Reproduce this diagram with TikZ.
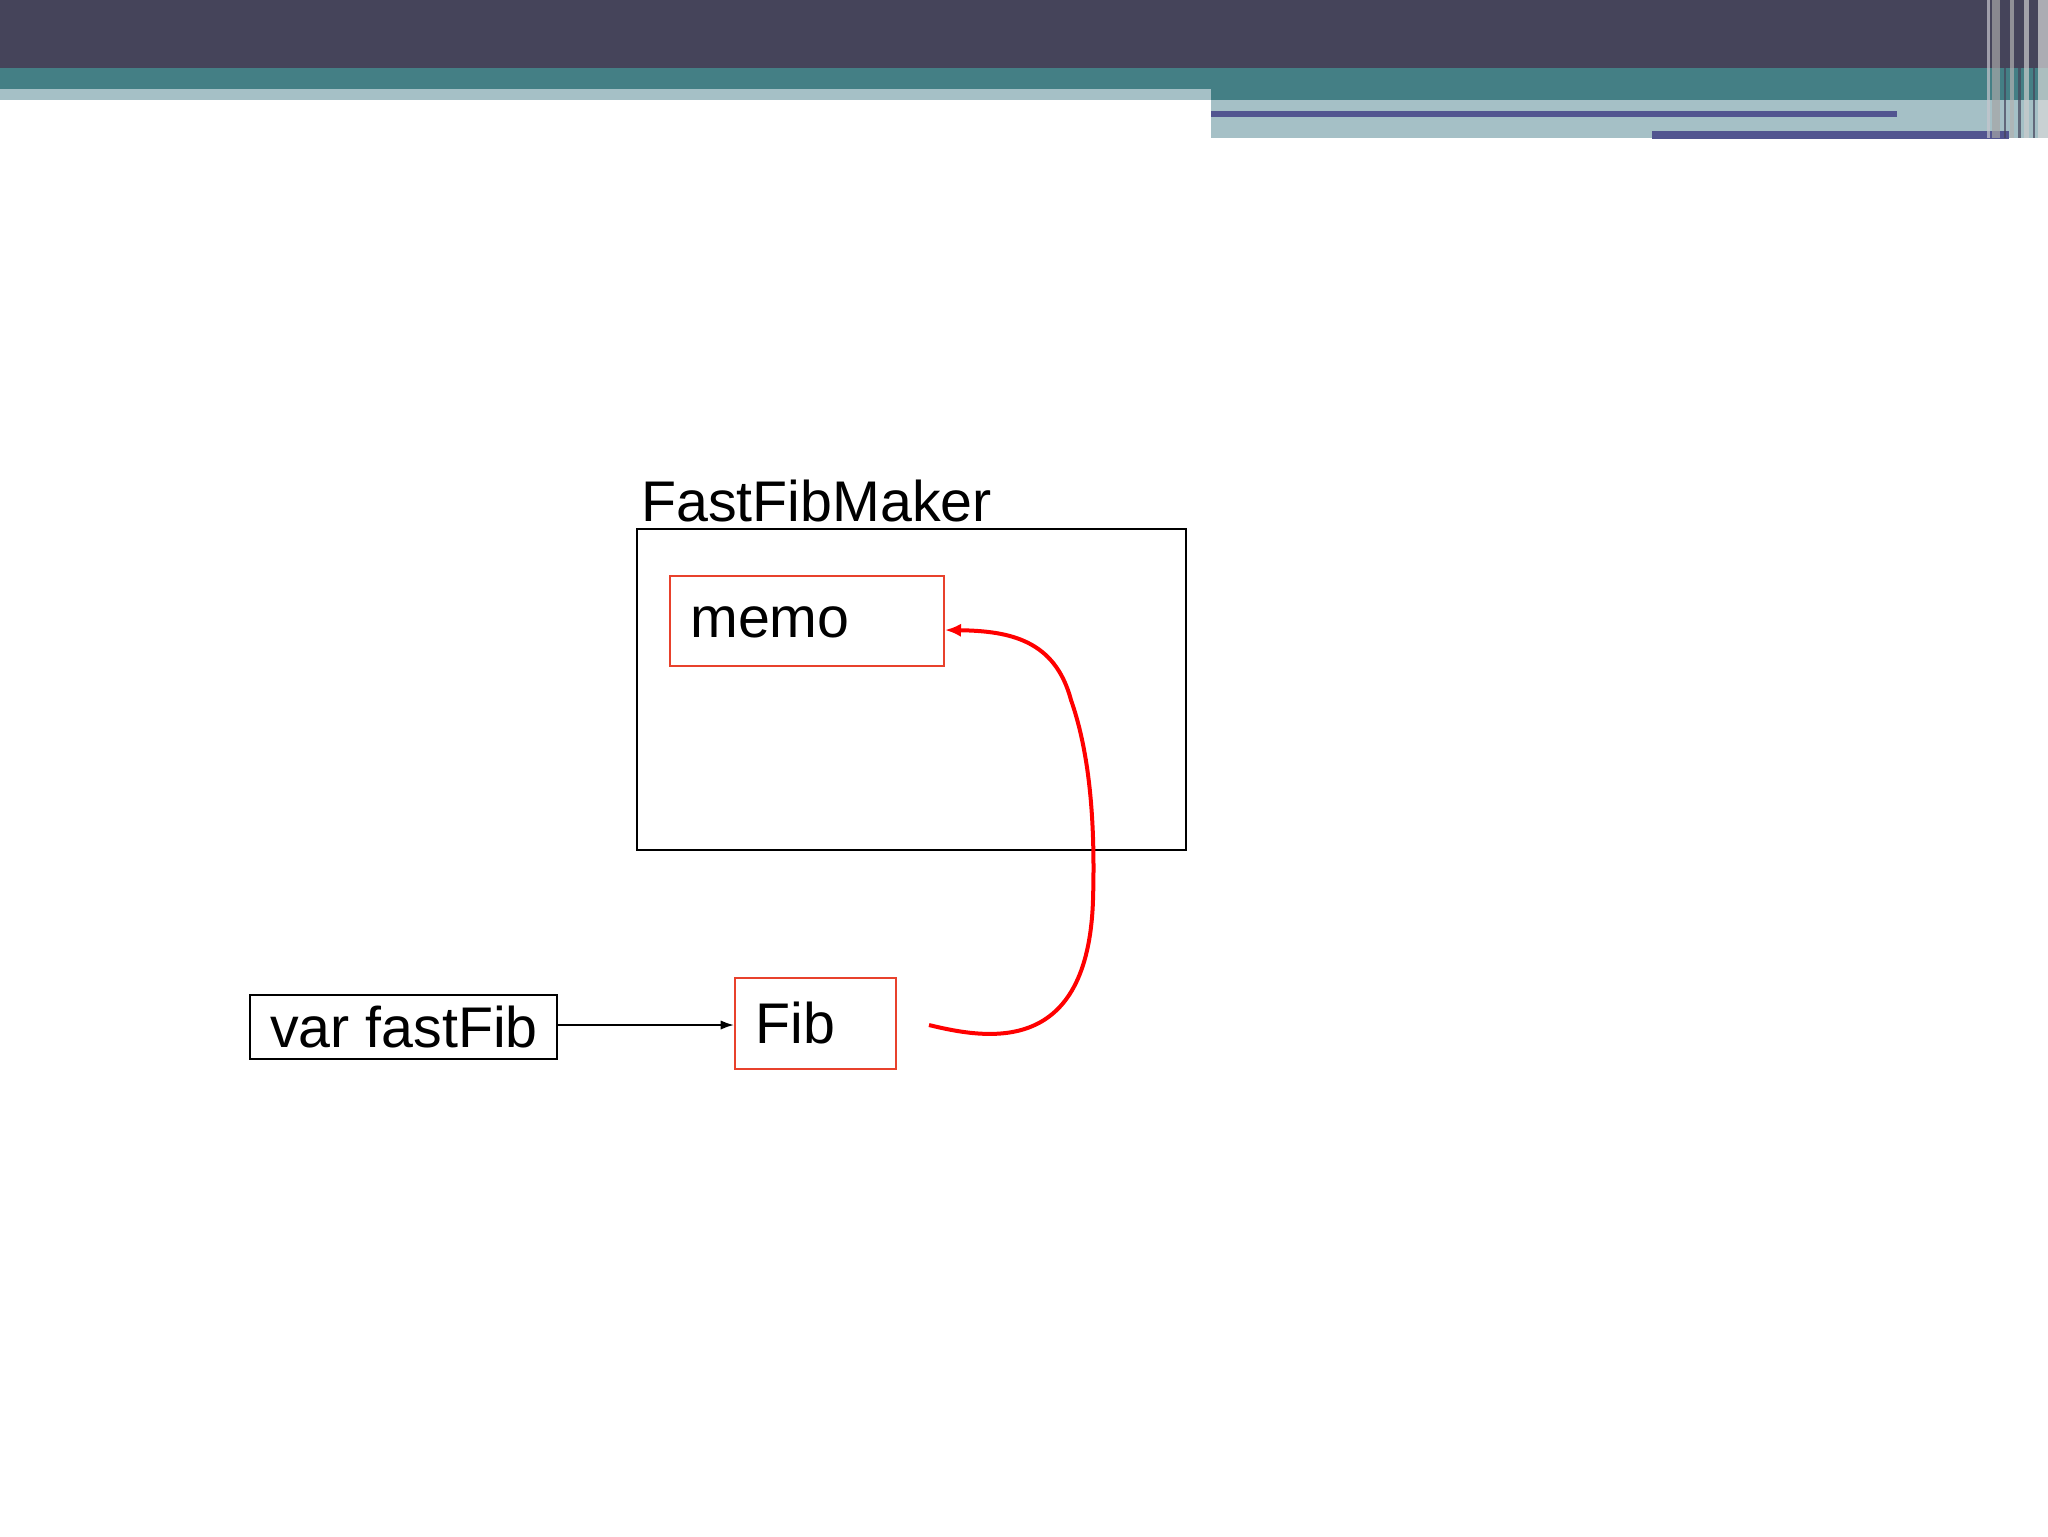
\documentclass[tikz,border=0pt]{standalone}
\usepackage{fontspec}
\usetikzlibrary{arrows.meta}
\setmainfont{Liberation Sans}
\definecolor{hdark}{HTML}{45445A}
\definecolor{hteal}{HTML}{447F85}
\definecolor{hlight}{HTML}{A5C0C6}
\definecolor{hpurp}{HTML}{525590}
\definecolor{fred}{HTML}{E8412C}
\tikzset{
  lbl/.style={font=\fontsize{43}{50}\selectfont, inner sep=0pt},
  blackbox/.style={draw=black, line width=1.5pt},
  redbox/.style={draw=fred, line width=1.5pt},
}
\begin{document}
\begin{tikzpicture}[x=0.75pt,y=-0.75pt]
\useasboundingbox (0,0) rectangle (2048,1536);
% header
\fill[hdark] (0,0) rectangle (2048,68);
\fill[hteal] (0,68) rectangle (2048,100);
\fill[hlight] (0,89) rectangle (1211,100);
\fill[hlight] (1211,100) rectangle (2048,138);
\fill[hpurp] (1211,111) rectangle (1897,117);
\fill[hpurp] (1652,131) rectangle (2009,139);
\foreach \x/\w/\c in {1987/3/white!70!hdark,1992/8/gray!70,2004/2/hdark,2010/4/gray!60,2018/3/hdark,2024/5/gray!40,2033/2/hdark,2038/10/gray!30}
  \fill[\c,opacity=0.7] (\x,0) rectangle ++(\w,138);
% diagram
\node[blackbox, minimum width=411.75pt, minimum height=240.75pt, anchor=north west, inner sep=0pt] (ffm) at (636,528) {};
\node[lbl, anchor=south west] (ffmlbl) at (641,522) {FastFibMaker};
\node[redbox, minimum width=205.5pt, minimum height=67.5pt, anchor=north west, inner sep=0pt] (memo) at (669,575) {};
\node[lbl, anchor=west] (memolbl) at (690,622) {memo};
\node[redbox, minimum width=120.75pt, minimum height=68.25pt, anchor=north west, inner sep=0pt] (fib) at (734,977) {};
\node[lbl, anchor=west] (fiblbl) at (755,1023) {Fib};
\node[blackbox, minimum width=230.25pt, minimum height=48pt, anchor=north west, inner sep=0pt] (var) at (249,994) {};
\node[lbl, anchor=west] (varlbl) at (270,1027) {var fastFib};
\draw[-{Latex[length=10pt,width=7pt]}, line width=1.5pt] (var.east |- 0,1025) -- (fib.west |- 0,1025);
\coordinate (cs) at (929,1025);
\draw[red, line width=3pt, -{Latex[length=12pt,width=10pt]}] (cs) .. controls (990,1040) and (1088,1055) .. (1093,900)
  .. controls (1096,800) and (1085,740) .. (1071,700)
  .. controls (1055,640) and (1010,631) .. (memo.east |- 0,630);
\end{tikzpicture}
\end{document}
